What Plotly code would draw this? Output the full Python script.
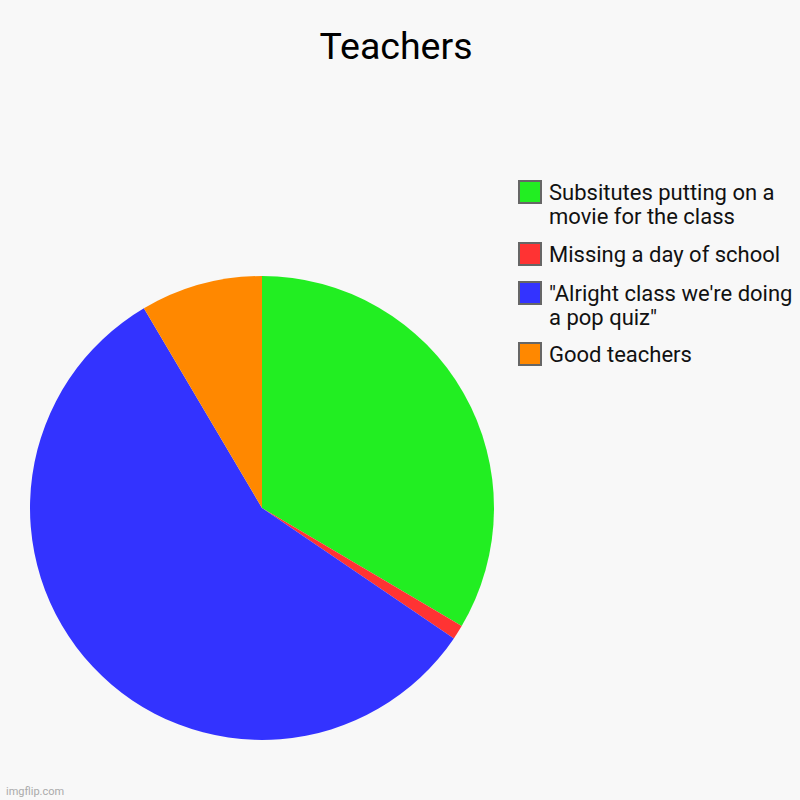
import plotly.graph_objects as go

labels = ["Subsitutes putting on a movie for the class",
          "Missing a day of school",
          "\"Alright class we're doing a pop quiz\"",
          "Good teachers"]
legend_lines = [["Subsitutes putting on a", "movie for the class"],
                ["Missing a day of school"],
                ["\"Alright class we're doing", "a pop quiz\""],
                ["Good teachers"]]
values = [33.5, 1.0, 57.0, 8.5]
colors = ["#22ee22", "#ff3333", "#3333ff", "#ff8800"]

W = H = 800
fig = go.Figure()
fig.add_trace(go.Pie(
    labels=labels, values=values, sort=False, direction="clockwise", rotation=0,
    marker=dict(colors=colors, line=dict(width=0)),
    textinfo="none", hoverinfo="label+percent", showlegend=False,
    domain=dict(x=[30/W, 494/W], y=[1-740/H, 1-276/H]),
))

# Legend built from data arrays
centers = [192, 254, 293, 354]
line_gap = 24.5
shapes = []
annotations = []
for cy, lines, c in zip(centers, legend_lines, colors):
    shapes.append(dict(type="rect", xref="paper", yref="paper",
                       x0=519/W, x1=541/W, y0=1-(cy+11)/H, y1=1-(cy-11)/H,
                       fillcolor=c, line=dict(color="#666666", width=2)))
    for k, ln in enumerate(lines):
        annotations.append(dict(text=ln, xref="paper", yref="paper",
                                x=547/W, y=1-(cy+k*line_gap)/H,
                                xanchor="left", yanchor="middle",
                                align="left", showarrow=False,
                                font=dict(family="Roboto", size=22, color="#111111")))

annotations.append(dict(text="imgflip.com", xref="paper", yref="paper",
                        x=4/W, y=1-791/H, xanchor="left", yanchor="middle",
                        showarrow=False,
                        font=dict(family="Roboto", size=11, color="#aaaaaa")))

fig.update_layout(
    width=W, height=H,
    margin=dict(l=0, r=0, t=0, b=0),
    paper_bgcolor="#f8f8f8", plot_bgcolor="#f8f8f8",
    title=dict(text="Teachers", x=396/W, xanchor="center", y=1-45.5/H, yanchor="middle",
               font=dict(family="Roboto", size=37.5, color="#000000")),
    shapes=shapes, annotations=annotations,
)
fig.write_html("out.html", config={"displayModeBar": False},
               post_script="document.body.style.margin='0';document.body.style.overflow='hidden';")
